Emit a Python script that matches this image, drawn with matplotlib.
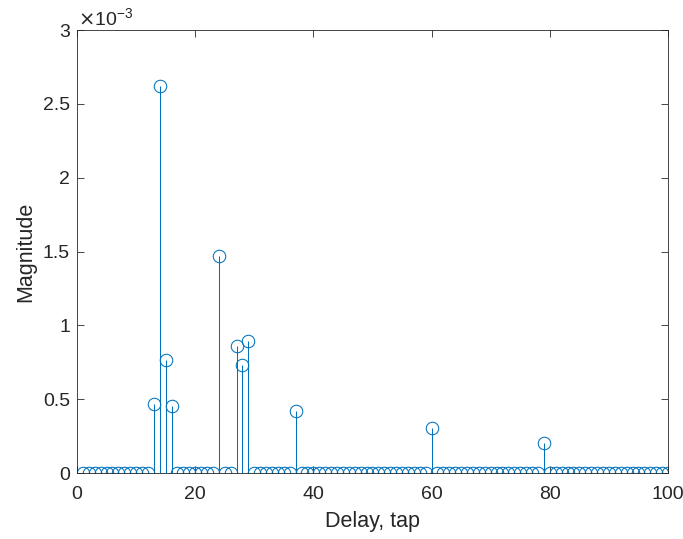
import numpy as np
import matplotlib
matplotlib.use('Agg')
import matplotlib.pyplot as plt

plt.rcParams['font.family'] = ['Liberation Sans', 'DejaVu Sans']

taps = np.arange(1, 101)
peak_taps = [13, 14, 15, 16, 24, 27, 28, 29, 37, 60, 79]
peak_vals = [0.467, 2.624, 0.764, 0.455, 1.473, 0.859, 0.731, 0.892, 0.421, 0.305, 0.202]

mag = np.zeros(len(taps))
for t, v in zip(peak_taps, peak_vals):
    mag[t - 1] = v * 1e-3

fig = plt.figure(figsize=(6.83, 5.39), dpi=100)
ax = fig.add_axes([0.1127, 0.1224, 0.8653, 0.8216])

color = '#0072BD'
markerline, stemlines, baseline = ax.stem(taps, mag, basefmt=' ')
plt.setp(markerline, marker='o', markersize=9, markerfacecolor='none',
         markeredgecolor=color, markeredgewidth=0.75)
plt.setp(stemlines, color=color, linewidth=0.75)
ax.axhline(0, color='#262626', linewidth=0.6, zorder=0)

ax.set_xlim(0, 100)
ax.set_ylim(0, 3e-3)
ax.set_xticks([0, 20, 40, 60, 80, 100])
ax.set_yticks(np.arange(0, 3.01e-3, 0.5e-3))
ax.set_yticklabels(['0', '0.5', '1', '1.5', '2', '2.5', '3'])
ax.tick_params(direction='in', length=5, width=0.6, labelsize=14, pad=5,
               colors='#262626', top=True, right=True,
               labeltop=False, labelright=False)
ax.tick_params(axis='x', pad=9)
for s in ax.spines.values():
    s.set_linewidth(0.6)
    s.set_color('#262626')

ax.text(0.002, 1.003, r'$\times\mathregular{10^{-3}}$', transform=ax.transAxes,
        fontsize=14, color='#262626', va='bottom', ha='left')

ax.set_xlabel('Delay, tap', fontsize=15.5, color='#262626', labelpad=6)
ax.set_ylabel('Magnitude', fontsize=15.5, color='#262626', labelpad=5)

fig.savefig('out.png', dpi=100)
